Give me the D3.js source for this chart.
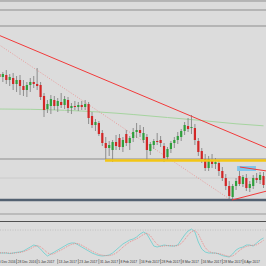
<!DOCTYPE html>
<html>
<head>
<meta charset="utf-8">
<script src="https://cdn.jsdelivr.net/npm/d3@7"></script>
<style>body{margin:0;background:#dcdcdc;overflow:hidden}</style>
</head>
<body>
<svg width="266" height="266" id="mainsvg" style="display:block"></svg>
<script>
// daily candles, index 0..78
const opens = [122.4,122.6,122.3,122.5,122.0,122.2,121.6,122.0,121.4,121.0,
  121.5,121.8,121.6,121.5,120.4,119.1,119.4,120.0,119.4,119.8,
  119.5,120.0,119.2,119.4,119.3,119.5,119.3,119.6,118.4,117.5,
  117.7,116.7,115.7,115.2,115.0,115.8,116.2,115.3,116.6,115.7,
  116.2,116.8,117.0,116.0,116.3,114.9,115.5,115.9,116.0,115.4,
  114.3,115.1,115.7,116.0,116.3,116.9,117.4,117.2,117.2,115.9,
  114.9,114.1,113.2,114.0,113.6,113.7,112.9,112.2,111.4,110.3,
  111.4,112.4,111.6,112.2,111.2,111.4,112.2,112.0,112.4];
const highs = [122.8,122.9,122.8,123.0,122.6,122.7,122.4,122.5,122.0,121.8,
  122.2,122.4,123.2,121.8,120.7,120.0,120.5,120.4,120.2,120.7,
  120.4,120.3,119.7,119.9,119.8,119.9,120.0,119.8,118.8,118.1,
  117.9,117.0,116.3,115.9,116.0,116.5,116.6,116.3,117.0,116.4,
  117.2,117.7,117.5,117.3,116.6,115.8,116.1,116.7,116.4,115.7,
  115.3,115.9,116.3,116.8,117.1,117.8,118.2,118.5,117.6,116.2,
  115.2,114.6,114.4,114.6,114.2,114.0,113.3,112.6,111.9,111.6,
  112.2,113.3,112.5,112.6,111.9,112.5,112.7,112.8,112.8];
const lows = [121.9,122.0,121.8,121.6,121.4,121.0,120.8,120.5,120.4,120.3,
  120.8,121.2,121.0,120.0,118.3,118.7,118.6,119.0,118.8,119.2,
  119.1,118.7,118.6,119.0,118.9,119.0,119.0,117.6,117.2,116.9,
  116.4,115.4,114.0,114.4,113.8,115.0,115.0,114.8,115.4,115.0,
  115.8,116.2,116.3,115.7,114.0,114.5,115.1,115.5,115.3,113.8,
  114.0,114.7,115.2,115.6,115.9,116.5,116.8,116.6,115.5,114.4,
  113.7,112.9,112.9,113.2,113.1,112.4,111.9,111.0,110.0,110.0,
  111.0,111.4,111.3,110.9,110.8,111.1,111.7,111.6,111.2];
const closes = [122.6,122.3,122.6,122.0,122.3,121.6,122.0,121.4,121.0,121.5,
  121.8,121.6,121.4,120.3,119.0,119.6,120.1,119.4,119.9,119.5,
  120.1,119.2,119.4,119.3,119.5,119.3,119.6,118.2,117.5,117.8,
  116.6,115.7,115.2,115.5,115.8,115.4,115.3,116.0,115.7,116.2,
  116.8,117.0,116.7,116.7,115.0,115.6,115.9,115.8,115.7,114.2,
  115.1,115.7,116.0,116.4,116.9,117.5,117.1,117.3,116.0,114.8,
  114.1,113.2,114.1,113.6,113.8,112.9,112.2,111.4,110.4,111.4,
  111.9,111.6,112.3,111.2,111.6,112.2,112.0,112.5,111.5];

// stochastic main / signal
const stochMain = [22.5,22.5,22.5,22.5,21,22.5,24,25,27.5,32.5,
  37.5,42.5,40,32.5,22.5,15,20,25,30,35,
  40,45,47.5,47.5,42.5,37.5,32.5,27.5,22.5,19,
  16,15,16,17.5,22.5,30,37.5,45,50,55,
  57.5,62.5,70,75,70,55,40,37.5,40,42.5,
  41,40,40,42.5,55,67.5,77.5,82.5,75,50,
  32.5,25,22.5,22.5,22.5,20,16,14,12.5,20,
  30,35,37.5,42.5,42.5,40,47.5,55,60];
const stochSignal = [23,23,23,23,22,22,23,24,26,29,
  33,38,41,38,31,23,19,21,26,30,
  35,40,44,46,46,42,37,32,27,23,
  19,17,16,16,18,22,29,37,44,50,
  54,58,63,69,72,66,54,44,39,40,
  41,41,40,41,46,56,67,76,79,70,
  52,36,27,23,22,21,19,16,14,15,
  21,29,35,39,41,42,43,48,54];
const stochLevel = 80;

// moving average (candle index, price)
const maIndex = [0,10,20,30,40,50,60,70,78];
const maValues = [119.1,119.07,118.97,118.8,118.55,118.25,117.95,117.62,117.42];

// horizontal levels
const greyLevels = [129.9, 129.0, 127.4, 114.1];
const faintLevel = 112.2;
const yellowLevel = 113.95, yellowStart = 31.8;
const supportLevel = 110.0;

// trend lines [index, price]
const redTrend = [[0, 126.6], [79, 115.2]];
const dottedTrend = [[1, 125.5], [68.5, 110.0]];
const triUpper = [[71.1, 113.3], [79, 112.9]];
const triLower = [[68.8, 110.0], [79, 110.9]];
const blueBox = {i0: 70.3, i1: 75.8, top: 113.4, bottom: 112.9};

const dateLabels = ["20 Dec 2016","28 Dec 2016","5 Jan 2017","13 Jan 2017","23 Jan 2017",
  "31 Jan 2017","8 Feb 2017","16 Feb 2017","28 Feb 2017","8 Mar 2017","16 Mar 2017",
  "28 Mar 2017","6 Apr 2017"];
const labelStep = 6;

let svg = d3.select('#mainsvg');
const W = 266, H = 266;
const x = d3.scaleLinear().domain([0, 78]).range([-4, 263.5]);
const y = d3.scaleLinear().domain([130, 110]).range([0, 200]);
const yOsc = d3.scaleLinear().domain([0, 100]).range([262, 222]);

svg.append('rect').attr('width', W).attr('height', H).attr('fill', '#dcdcdc');
svg.append('defs').append('clipPath').attr('id', 'clipMain')
  .append('rect').attr('width', W).attr('height', 212);

const main = svg.append('g').attr('clip-path', 'url(#clipMain)');

main.selectAll('line.grey').data(greyLevels).join('line').attr('class', 'grey')
  .attr('x1', 0).attr('x2', W)
  .attr('y1', d => y(d)).attr('y2', d => y(d))
  .attr('stroke', '#8e8e8e').attr('stroke-width', 1);

main.append('line')
  .attr('x1', 0).attr('x2', W).attr('y1', y(faintLevel)).attr('y2', y(faintLevel))
  .attr('stroke', '#c6c6c6').attr('stroke-width', 0.8);

// MA
main.append('path')
  .datum(maIndex.map((d, k) => [d, maValues[k]]))
  .attr('fill', 'none').attr('stroke', '#a6d4a0').attr('stroke-width', 1)
  .attr('d', d3.line().x(d => x(d[0])).y(d => y(d[1])).curve(d3.curveMonotoneX));

// dotted trend
main.append('line')
  .attr('x1', x(dottedTrend[0][0])).attr('y1', y(dottedTrend[0][1]))
  .attr('x2', x(dottedTrend[1][0])).attr('y2', y(dottedTrend[1][1]))
  .attr('stroke', '#ec8a8a').attr('stroke-width', 0.8).attr('stroke-dasharray', '1 1.6');

// candles
const candles = d3.range(opens.length).map(i => ({i, o: opens[i], h: highs[i], l: lows[i], c: closes[i]}));
main.selectAll('line.wick').data(candles).join('line').attr('class', 'wick')
  .attr('x1', d => x(d.i)).attr('x2', d => x(d.i))
  .attr('y1', d => y(d.h)).attr('y2', d => y(d.l))
  .attr('stroke', '#858585').attr('stroke-width', 0.9);
main.selectAll('rect.body').data(candles).join('rect').attr('class', 'body')
  .attr('x', d => x(d.i) - 1.1).attr('width', 2.2)
  .attr('y', d => y(Math.max(d.o, d.c)))
  .attr('height', d => Math.max(0.8, Math.abs(y(d.o) - y(d.c))))
  .attr('fill', d => d.c >= d.o ? '#2f9f3c' : '#d22626');

// yellow zone line
main.append('line')
  .attr('x1', x(yellowStart)).attr('x2', W)
  .attr('y1', y(yellowLevel)).attr('y2', y(yellowLevel))
  .attr('stroke', '#f3c614').attr('stroke-width', 2.4);

// support
main.append('line')
  .attr('x1', 0).attr('x2', W).attr('y1', y(supportLevel)).attr('y2', y(supportLevel))
  .attr('stroke', '#536171').attr('stroke-width', 2.4);

// blue box
main.append('rect')
  .attr('x', x(blueBox.i0)).attr('width', x(blueBox.i1) - x(blueBox.i0))
  .attr('y', y(blueBox.top)).attr('height', y(blueBox.bottom) - y(blueBox.top))
  .attr('fill', '#7fc6ee');

// red trend lines
[redTrend, triUpper, triLower].forEach(t => {
  main.append('line')
    .attr('x1', x(t[0][0])).attr('y1', y(t[0][1]))
    .attr('x2', x(t[1][0])).attr('y2', y(t[1][1]))
    .attr('stroke', '#f23a3a').attr('stroke-width', 1);
});

// pane separators
svg.append('line').attr('x1', 0).attr('x2', W).attr('y1', 214).attr('y2', 214)
  .attr('stroke', '#9a9a9a').attr('stroke-width', 1);
svg.append('line').attr('x1', 0).attr('x2', W).attr('y1', 221.5).attr('y2', 221.5)
  .attr('stroke', '#505050').attr('stroke-width', 1);

// oscillator
svg.append('line').attr('x1', 0).attr('x2', W)
  .attr('y1', yOsc(stochLevel)).attr('y2', yOsc(stochLevel))
  .attr('stroke', '#b4b4b4').attr('stroke-width', 0.7).attr('stroke-dasharray', '1 1.5');
const oscLine = d3.line().x((d, i) => x(i)).y(d => yOsc(d));
svg.append('path').datum(stochMain).attr('fill', 'none')
  .attr('stroke', '#74d0d0').attr('stroke-width', 0.9).attr('d', oscLine);
svg.append('path').datum(stochSignal).attr('fill', 'none')
  .attr('stroke', '#ee7a7a').attr('stroke-width', 0.8).attr('stroke-dasharray', '1 1')
  .attr('d', oscLine);

// time axis
svg.selectAll('line.tick').data(dateLabels).join('line').attr('class', 'tick')
  .attr('x1', (d, k) => x(k * labelStep)).attr('x2', (d, k) => x(k * labelStep))
  .attr('y1', 259).attr('y2', 264).attr('stroke', '#6a6a6a').attr('stroke-width', 0.6);
svg.selectAll('text.date').data(dateLabels).join('text').attr('class', 'date')
  .attr('x', (d, k) => x(k * labelStep) + 1).attr('y', 263)
  .attr('font-family', 'Liberation Sans, Arial, sans-serif').attr('font-size', 3.3)
  .attr('fill', '#333').text(d => d);
</script>
</body>
</html>
